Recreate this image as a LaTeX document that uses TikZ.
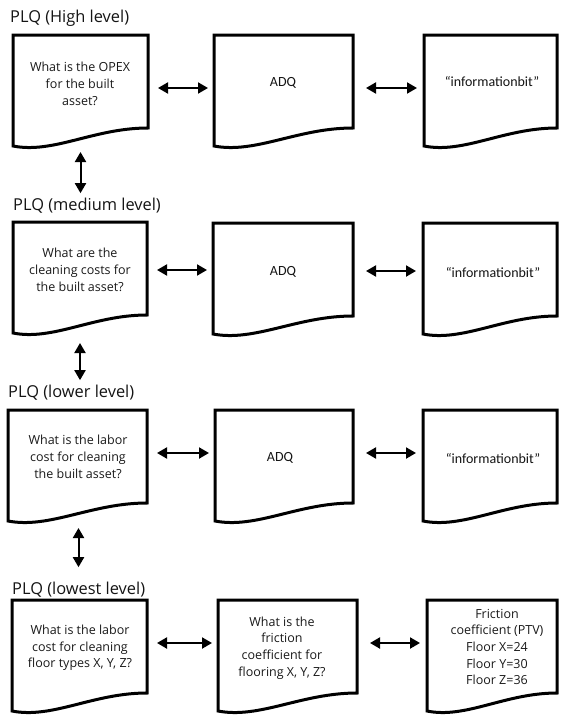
\documentclass[tikz,border=0pt]{standalone}
\usepackage{fontspec}
\setmainfont{Open Sans}
\newfontfamily\calfont{Carlito}
\usetikzlibrary{arrows.meta}

% Document-shaped box: #1 name, #2 left x, #3 top y, #4 width
\newcommand{\docbox}[4]{%
  \begin{scope}[shift={(#2,#3)}]
    \draw[docline] (#4,93) -- (#4,0) -- (0,0) -- (0,111)
      .. controls ({0.3*#4},119) and ({0.6*#4},93) .. (#4,93) -- cycle;
    \node[anchor=north west, minimum width=#4pt, minimum height=111pt,
          inner sep=0pt, outer sep=0pt] (#1) at (0,0) {};
  \end{scope}}

\begin{document}
\begin{tikzpicture}[x=1pt,y=-1pt,
  docline/.style={line width=3pt, line join=miter},
  title/.style={anchor=west, inner sep=0pt, text=black!92,
                font=\fontsize{16.4}{20}\selectfont},
  qtext/.style={align=center, inner sep=0pt, text=black!90,
                font=\fontsize{12.5}{16.7}\selectfont},
  dtext/.style={inner sep=0pt, text=black!92, font=\calfont\fontsize{14}{17}\selectfont},
  dbl/.style={{Triangle[length=10pt,width=11pt]}-{Triangle[length=10pt,width=11pt]},
              line width=2pt},
  gapA/.style={shorten <=10pt, shorten >=6pt},
  gapB/.style={shorten <=13pt, shorten >=7pt},
  vgap/.style={shorten <=6pt, shorten >=5pt},
]
\useasboundingbox (0,0) rectangle (562,715);

% level titles
\node[title] (t1) at (10,18)  {PLQ (High level)};
\node[title] (t2) at (13,206) {PLQ (medium level)};
\node[title] (t3) at (8,393)  {PLQ (lower level)};
\node[title] (t4) at (12,590) {PLQ (lowest level)};

% row 1
\docbox{b11}{13}{35}{135}
\docbox{b12}{214}{35}{139}
\docbox{b13}{424}{35}{133}
\node[qtext] (q1) at (80,84) {What is the OPEX\\for the built\\asset?};
\node[dtext] (d1) at (283,83) {ADQ};
\node[dtext] (i1) at (492,82) {“informationbit”};

% row 2
\docbox{b21}{13}{222}{134}
\docbox{b22}{213}{223}{140}
\docbox{b23}{423}{223}{134}
\node[qtext] (q2) at (80,270) {What are the\\cleaning costs for\\the built asset?};
\node[dtext] (d2) at (283,272) {ADQ};
\node[dtext] (i2) at (493,272) {“informationbit”};

% row 3
\docbox{b31}{8}{410}{139}
\docbox{b32}{215}{410}{138}
\docbox{b33}{423}{410}{134}
\node[qtext] (q3) at (78,457) {What is the labor\\cost for cleaning\\the built asset?};
\node[dtext] (d3) at (280,458) {ADQ};
\node[dtext] (i3) at (493,458) {“informationbit”};

% row 4
\docbox{b41}{12}{600}{135}
\docbox{b42}{218}{600}{139}
\docbox{b43}{427}{600}{130}
\node[qtext] (q4) at (80,648) {What is the labor\\cost for cleaning\\floor types X, Y, Z?};
\node[qtext] (f4) at (282,648) {What is the\\friction\\coefficient for\\flooring X, Y, Z?};
\node[qtext] (v4) at (497,647) {Friction\\coefficient (PTV)\\Floor X=24\\Floor Y=30\\Floor Z=36};

% horizontal links (kept level with the left box of each pair)
\draw[dbl, gapA] ([yshift=2.5pt]b11.east) -- ([yshift=2.5pt]b11.east -| b12.west);
\draw[dbl, gapB] ([yshift=2.5pt]b12.east) -- ([yshift=2.5pt]b12.east -| b13.west);
\draw[dbl, gapA] ([yshift=7.5pt]b21.east) -- ([yshift=7.5pt]b21.east -| b22.west);
\draw[dbl, gapB] ([yshift=7.5pt]b22.east) -- ([yshift=7.5pt]b22.east -| b23.west);
\draw[dbl, gapA] ([yshift=12.5pt]b31.east) -- ([yshift=12.5pt]b31.east -| b32.west);
\draw[dbl, gapB] ([yshift=12.5pt]b32.east) -- ([yshift=12.5pt]b32.east -| b33.west);
\draw[dbl, gapA] ([yshift=12.5pt]b41.east) -- ([yshift=12.5pt]b41.east -| b42.west);
\draw[dbl, gapB] ([yshift=12.5pt]b42.east) -- ([yshift=12.5pt]b42.east -| b43.west);

% vertical links between levels
\draw[dbl, vgap] (b11.south) -- (b11.south |- t2.north);
\draw[dbl, vgap] ([yshift=-4pt]b21.south) -- (b21.south |- t3.north);
\draw[dbl, shorten <=7pt, shorten >=15pt] ([xshift=1pt]b31.south) -- ([xshift=1pt]b31.south |- t4.north);
\end{tikzpicture}
\end{document}
